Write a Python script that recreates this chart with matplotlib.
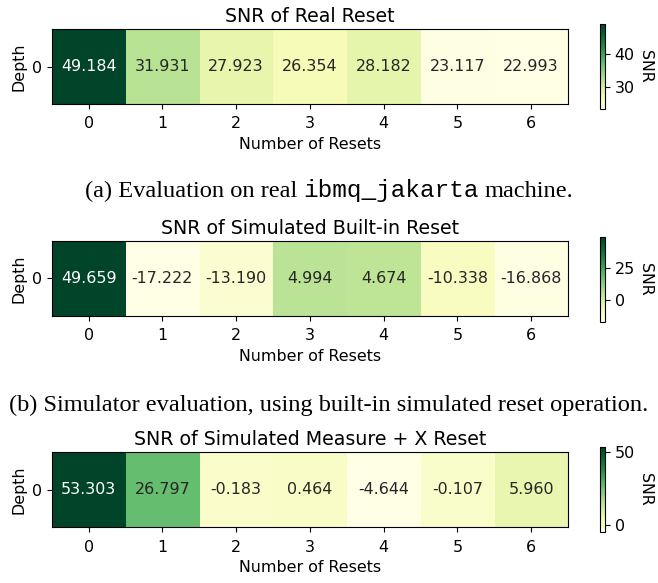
import numpy as np
import matplotlib
matplotlib.use("Agg")
import matplotlib.pyplot as plt

# data
resets = [0, 1, 2, 3, 4, 5, 6]
snr_real = [49.184, 31.931, 27.923, 26.354, 28.182, 23.117, 22.993]
snr_builtin = [49.659, -17.222, -13.190, 4.994, 4.674, -10.338, -16.868]
snr_measure_x = [53.303, 26.797, -0.183, 0.464, -4.644, -0.107, 5.960]

titles = ["SNR of Real Reset",
          "SNR of Simulated Built-in Reset",
          "SNR of Simulated Measure + X Reset"]
cbar_ticks = [[30, 40], [0, 25], [0, 50]]

W, H = 658, 583
fs = 11.4
fig = plt.figure(figsize=(W / 100, H / 100), dpi=100)

def px_axes(x0, y0, w, h):
    # pixel box (top-left origin) -> figure fraction
    return fig.add_axes([x0 / W, 1 - (y0 + h) / H, w / W, h / H])

heat_tops = [29.3, 241.0, 452.3]
cbar_tops = [24.3, 237.0, 447.3]
cmap = plt.get_cmap("YlGn")

for vals, title, ticks, ht, ct in zip([snr_real, snr_builtin, snr_measure_x],
                                      titles, cbar_ticks, heat_tops, cbar_tops):
    data = np.array([vals])
    vmin, vmax = data.min(), data.max()
    ax = px_axes(51.7, ht, 516.3, 74.7)
    im = ax.imshow(data, cmap=cmap, vmin=vmin, vmax=vmax, aspect="auto")
    ax.set_xticks(range(len(resets)))
    ax.set_xticklabels([str(r) for r in resets], fontsize=fs)
    ax.set_yticks([0])
    ax.set_yticklabels(["0"], fontsize=fs)
    ax.tick_params(axis="x", pad=5.5)
    ax.set_xlabel("Number of Resets", fontsize=fs, labelpad=4)
    ax.set_ylabel("Depth", fontsize=fs)
    ax.set_title(title, fontsize=13.7, pad=5)
    for i, v in enumerate(vals):
        r, g, b, _ = cmap((v - vmin) / (vmax - vmin))
        lum = 0.2126 * r + 0.7152 * g + 0.0722 * b
        ax.text(i, 0, "%.3f" % v, ha="center", va="center", fontsize=fs,
                color="#262626" if lum > 0.408 else "white")

    cax = px_axes(600, ct, 5, 85)
    cb = fig.colorbar(im, cax=cax)
    cb.set_ticks(ticks)
    cb.ax.tick_params(labelsize=fs)
    cb.set_label("SNR", rotation=270, fontsize=fs, labelpad=13)

# captions: serif text with a monospace machine name
renderer = fig.canvas.get_renderer()

def caption(pieces, y_px, size=17.6):
    texts = []
    for s, fam in pieces:
        texts.append(fig.text(0, 1 - y_px / H, s, family=fam, fontsize=size,
                              va="baseline", ha="left"))
    gap = size * 0.25 * 100 / 72
    widths = [t.get_window_extent(renderer).width for t in texts]
    total = sum(widths) + gap * (len(texts) - 1)
    x = W / 2 - total / 2
    for t, w in zip(texts, widths):
        t.set_x(x / W)
        x += w + gap

caption([("(a) Evaluation on real", "Liberation Serif"),
         ("ibmq_jakarta", "Liberation Mono"),
         ("machine.", "Liberation Serif")], 197.3)
caption([("(b) Simulator evaluation, using built-in simulated reset operation.",
          "Liberation Serif")], 410.7)

fig.savefig("out.png", dpi=100)
